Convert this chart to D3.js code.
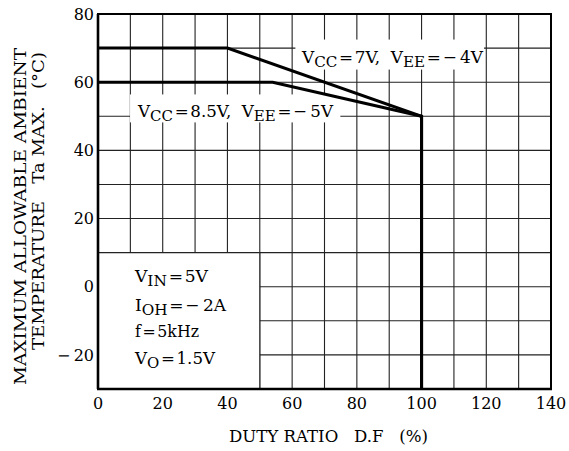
<!DOCTYPE html>
<html><head><meta charset="utf-8">
<script src="https://cdn.jsdelivr.net/npm/d3@7"></script>
<style>body{margin:0;background:#fff}svg{display:block}text{font-family:"DejaVu Serif",serif;fill:#000}</style>
</head><body>
<script>
const xTicks = [0, 20, 40, 60, 80, 100, 120, 140];
const yTicks = [-20, 0, 20, 40, 60, 80];
const xGrid = [10, 20, 30, 40, 50, 60, 70, 80, 90, 100, 110, 120, 130];
const yGrid = [-20, -10, 0, 10, 20, 30, 40, 50, 60, 70];
const curve7 = [[0, 70], [40, 70], [100, 50], [100, -30]];
const curve85 = [[0, 60], [54, 60], [100, 50], [100, -30]];
const conditions = [
  [{t: "V"}, {t: "IN", sub: true}, {t: "\u200A=\u200A5V"}],
  [{t: "I"}, {t: "OH", sub: true}, {t: "\u200A=\u200A\u2212\u20092A"}],
  [{t: "f\u200A=\u200A5kHz"}],
  [{t: "V"}, {t: "O", sub: true}, {t: "\u200A=\u200A1.5V"}]
];
const condLen = [73, 91, 64, 80];
const label7 = [{t: "V"}, {t: "CC", sub: true}, {t: "\u200A=\u200A7V,  V"}, {t: "EE", sub: true}, {t: "\u200A=\u200A\u2212\u20094V"}];
const label85 = [{t: "V"}, {t: "CC", sub: true}, {t: "\u200A=\u200A8.5V,  V"}, {t: "EE", sub: true}, {t: "\u200A=\u200A\u2212\u20095V"}];

const W = 569, H = 451;
const svg = d3.select("body").append("svg").attr("width", W).attr("height", H);
const x = d3.scaleLinear().domain([0, 140]).range([98, 551]);
const y = d3.scaleLinear().domain([-30, 80]).range([389, 14]);

// grid
svg.append("g").selectAll("line").data(xGrid).join("line")
  .attr("x1", d => x(d)).attr("x2", d => x(d)).attr("y1", y(80)).attr("y2", y(-30))
  .attr("stroke", "#222").attr("stroke-width", 1.1);
svg.append("g").selectAll("line").data(yGrid).join("line")
  .attr("y1", d => y(d)).attr("y2", d => y(d)).attr("x1", x(0)).attr("x2", x(140))
  .attr("stroke", "#222").attr("stroke-width", 1.1);

// white boxes
svg.append("rect").attr("x", x(0)).attr("y", y(10)).attr("width", x(50) - x(0)).attr("height", y(-30) - y(10)).attr("fill", "#fff");
svg.append("rect").attr("x", x(61)).attr("y", y(72.5)).attr("width", x(119.3) - x(61)).attr("height", y(63.7) - y(72.5)).attr("fill", "#fff");
svg.append("rect").attr("x", x(9.9)).attr("y", y(56.4)).attr("width", x(74.9) - x(9.9)).attr("height", y(48.2) - y(56.4)).attr("fill", "#fff");
svg.append("line").attr("x1", x(0)).attr("x2", x(50)).attr("y1", y(10)).attr("y2", y(10)).attr("stroke", "#222").attr("stroke-width", 1.1);
svg.append("line").attr("x1", x(50)).attr("x2", x(50)).attr("y1", y(10)).attr("y2", y(-30)).attr("stroke", "#222").attr("stroke-width", 1.1);

// curves
const line = d3.line().x(d => x(d[0])).y(d => y(d[1]));
[curve7, curve85].forEach(c => {
  svg.append("path").attr("d", line(c)).attr("fill", "none").attr("stroke", "#000")
    .attr("stroke-width", 3).attr("stroke-linejoin", "miter");
});

// border
svg.append("rect").attr("x", x(0)).attr("y", y(80)).attr("width", x(140) - x(0)).attr("height", y(-30) - y(80))
  .attr("fill", "none").attr("stroke", "#000").attr("stroke-width", 2);
svg.append("line").attr("x1", x(0)).attr("x2", x(0)).attr("y1", y(80)).attr("y2", y(-30)).attr("stroke", "#000").attr("stroke-width", 2.6);
svg.append("line").attr("x1", x(0) - 1).attr("x2", x(140) + 1).attr("y1", y(-30)).attr("y2", y(-30)).attr("stroke", "#000").attr("stroke-width", 2.6);

// tick labels
svg.append("g").selectAll("text").data(xTicks).join("text")
  .attr("x", d => x(d)).attr("y", 409).attr("text-anchor", "middle").attr("font-size", 16)
  .text(d => d);
svg.append("g").selectAll("text").data(yTicks).join("text")
  .attr("x", 94).attr("y", d => y(d)).attr("dy", "0.36em").attr("text-anchor", "end").attr("font-size", 16)
  .text(d => d < 0 ? "\u2212\u2009" + Math.abs(d) : d);

// axis titles
svg.append("text").attr("x", 229).attr("y", 442).attr("font-size", 16)
  .attr("textLength", 199).attr("lengthAdjust", "spacingAndGlyphs").style("white-space", "pre")
  .text("DUTY RATIO   D.F   (%)");
svg.append("text").attr("transform", "translate(26,385) rotate(-90)").attr("font-size", 16.5)
  .attr("textLength", 337).attr("lengthAdjust", "spacingAndGlyphs")
  .text("MAXIMUM ALLOWABLE AMBIENT");
svg.append("text").attr("transform", "translate(44,350) rotate(-90)").attr("font-size", 16.5)
  .attr("textLength", 298).attr("lengthAdjust", "spacingAndGlyphs").style("white-space", "pre")
  .text("TEMPERATURE   Ta MAX.   (\u00B0C)");

function richText(g, segs, px, py, size, len) {
  const t = g.append("text").attr("x", px).attr("y", py).attr("font-size", size).style("white-space", "pre");
  if (len) t.attr("textLength", len).attr("lengthAdjust", "spacingAndGlyphs");
  let shifted = false;
  segs.forEach(s => {
    const ts = t.append("tspan").text(s.t);
    if (s.sub && !shifted) { ts.attr("dy", 4).attr("font-size", size * 0.9); shifted = true; }
    else if (!s.sub && shifted) { ts.attr("dy", -4); shifted = false; }
  });
  return t;
}
const cond = svg.append("g");
const condY = [282, 311, 337, 364];
conditions.forEach((c, i) => richText(cond, c, 135, condY[i], 16.5, condLen[i]));
richText(svg, label7, 302, 63, 17, 181);
richText(svg, label85, 138, 117, 17, 195);
</script>
</body></html>
